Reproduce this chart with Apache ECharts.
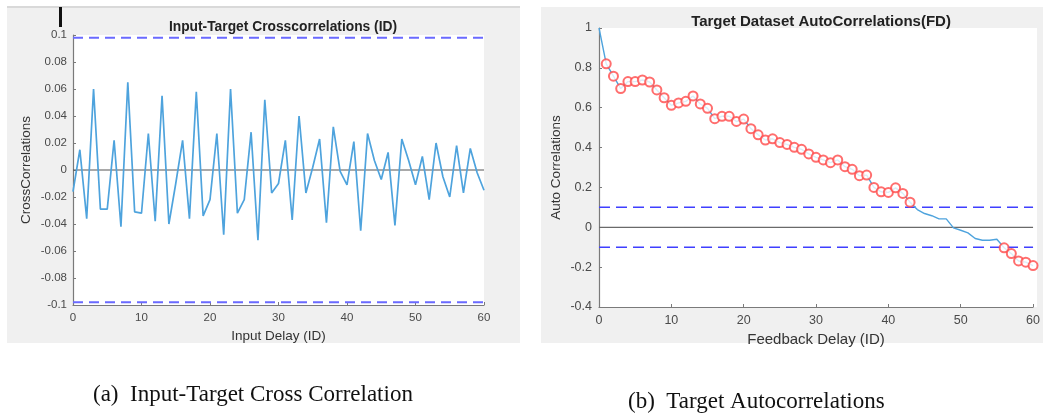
<!DOCTYPE html>
<html>
<head>
<meta charset="utf-8">
<script src="https://cdn.jsdelivr.net/npm/echarts@6/dist/echarts.min.js"></script>
<style>
html,body{margin:0;padding:0;background:#fff;}
#c{width:1043px;height:413px;}
</style>
</head>
<body>
<div id="c"></div>
<script>
// ---- Data ----
const lags = [];
for (let i = 0; i <= 60; i++) lags.push(i);

const crossCorr = [
  -0.016, 0.015, -0.036, 0.060, -0.029, -0.029, 0.022, -0.042, 0.065, -0.031,
  -0.032, 0.027, -0.038, 0.055, -0.040, -0.010, 0.022, -0.036, 0.058, -0.034,
  -0.022, 0.027, -0.048, 0.060, -0.032, -0.022, 0.028, -0.052, 0.052, -0.017,
  -0.010, 0.022, -0.037, 0.040, -0.017, 0.002, 0.023, -0.039, 0.032, -0.001,
  -0.011, 0.021, -0.045, 0.027, 0.007, -0.007, 0.013, -0.041, 0.023, 0.007,
  -0.011, 0.010, -0.022, 0.020, -0.005, -0.020, 0.018, -0.017, 0.016, -0.002,
  -0.015
];

const autoCorr = [
  1.000, 0.820, 0.758, 0.696, 0.731, 0.731, 0.739, 0.729, 0.689, 0.650,
  0.612, 0.624, 0.632, 0.659, 0.619, 0.597, 0.545, 0.557, 0.557, 0.531,
  0.543, 0.495, 0.464, 0.438, 0.444, 0.425, 0.416, 0.401, 0.391, 0.368,
  0.351, 0.338, 0.324, 0.338, 0.304, 0.291, 0.259, 0.262, 0.200, 0.178,
  0.175, 0.198, 0.170, 0.126, 0.089, 0.069, 0.058, 0.042, 0.042, -0.003,
  -0.015, -0.028, -0.056, -0.065, -0.065, -0.060, -0.103, -0.132, -0.169, -0.175,
  -0.192
];

const crossBound = 0.098;
const autoBound = 0.1;

const leftYTicks = [-0.1, 0.1, 0.02];   // min, max, interval
const rightYTicks = [-0.4, 1, 0.2];
const xTicks = [0, 60, 10];

// ---- Build ----
const crossData = lags.map((l, i) => [l, crossCorr[i]]);
const autoData = lags.map((l, i) => [l, autoCorr[i]]);
const autoOutside = lags
  .map((l, i) => [l, autoCorr[i]])
  .filter(d => d[0] > 0 && Math.abs(d[1]) > autoBound);
const hline = v => [[xTicks[0], v], [xTicks[1], v]];

const fmt = v => (Math.round(v * 1000) / 1000).toString();
const FONT = 'Liberation Sans, Arial, sans-serif';

function mkAxis(extra, labelSize, nameSize) {
  return Object.assign({
    type: 'value',
    axisLine: { show: true, onZero: false, lineStyle: { color: '#7a7a7a', width: 1.2 } },
    axisTick: { show: true, inside: true, length: 3, lineStyle: { color: '#7a7a7a' } },
    splitLine: { show: false },
    nameLocation: 'middle',
    nameTextStyle: { color: '#333', fontSize: nameSize, fontFamily: FONT }
  }, extra, {
    axisLabel: Object.assign({ color: '#4a4a4a', fontSize: labelSize, fontFamily: FONT, formatter: fmt }, extra.axisLabel || {})
  });
}

function lineSeries(xi, data, color, width, type, z) {
  return {
    type: 'line', xAxisIndex: xi, yAxisIndex: xi, data: data, showSymbol: false, silent: true,
    lineStyle: { color: color, width: width, type: type }, z: z
  };
}

const chart = echarts.init(document.getElementById('c'), null, { renderer: 'canvas' });

const option = {
  backgroundColor: '#ffffff',
  animation: false,
  graphic: [
    { type: 'rect', z: -10, shape: { x: 7, y: 7, width: 513, height: 336 }, style: { fill: '#f0f0f0' } },
    { type: 'rect', z: -9, shape: { x: 7, y: 6, width: 513, height: 2 }, style: { fill: '#d9d9d9' } },
    { type: 'rect', z: -10, shape: { x: 541, y: 7, width: 502, height: 336 }, style: { fill: '#f0f0f0' } },
    { type: 'rect', z: -8, shape: { x: 73, y: 35, width: 411, height: 270 }, style: { fill: '#ffffff' } },
    { type: 'rect', z: -8, shape: { x: 599, y: 28, width: 438, height: 279 }, style: { fill: '#ffffff' } },
    { type: 'rect', z: 5, shape: { x: 59, y: 7, width: 3, height: 20 }, style: { fill: '#111' } },
    { type: 'text', left: 93, top: 383, style: { text: '(a)  Input-Target Cross Correlation', fill: '#111', font: '23px "Liberation Serif", "Times New Roman", serif' } },
    { type: 'text', left: 628, top: 390, style: { text: '(b)  Target Autocorrelations', fill: '#111', font: '23px "Liberation Serif", "Times New Roman", serif' } }
  ],
  title: [
    { text: 'Input-Target Crosscorrelations (ID)', left: 278, top: 15, textAlign: 'center',
      textStyle: { fontSize: 13.8, fontWeight: 'bold', color: '#222', fontFamily: FONT } },
    { text: 'Target Dataset AutoCorrelations(FD)', left: 816, top: 9, textAlign: 'center',
      textStyle: { fontSize: 15, fontWeight: 'bold', color: '#222', fontFamily: FONT } }
  ],
  grid: [
    { left: 73, top: 35, width: 411, height: 270 },
    { left: 599, top: 28, width: 438, height: 279 }
  ],
  xAxis: [
    mkAxis({ gridIndex: 0, min: xTicks[0], max: xTicks[1], interval: xTicks[2],
      name: 'Input Delay (ID)', nameGap: 20, axisLabel: { margin: 7 } }, 11.5, 13.5),
    mkAxis({ gridIndex: 1, min: xTicks[0], max: xTicks[1], interval: xTicks[2],
      name: 'Feedback Delay (ID)', nameGap: 24, axisLabel: { margin: 7 } }, 12.5, 15)
  ],
  yAxis: [
    mkAxis({ gridIndex: 0, min: leftYTicks[0], max: leftYTicks[1], interval: leftYTicks[2],
      name: 'CrossCorrelations', nameGap: 40, axisLabel: { margin: 6 } }, 11.5, 13.5),
    mkAxis({ gridIndex: 1, min: rightYTicks[0], max: rightYTicks[1], interval: rightYTicks[2],
      name: 'Auto Correlations', nameGap: 36, axisLabel: { margin: 7 } }, 12.5, 13.5)
  ],
  series: [
    lineSeries(0, hline(0), '#555555', 1.2, 'solid', 2),
    lineSeries(0, hline(crossBound), '#6a6aff', 2, [10, 6], 2),
    lineSeries(0, hline(-crossBound), '#6a6aff', 2, [10, 6], 2),
    lineSeries(0, crossData, '#4ea3dd', 1.7, 'solid', 3),
    lineSeries(1, hline(0), '#6a6a6a', 1.3, 'solid', 2),
    lineSeries(1, hline(autoBound), '#3f3fff', 1.5, [11, 6], 2),
    lineSeries(1, hline(-autoBound), '#3f3fff', 1.5, [11, 6], 2),
    lineSeries(1, autoData, '#4ea3dd', 1.4, 'solid', 3),
    {
      type: 'scatter', xAxisIndex: 1, yAxisIndex: 1, data: autoOutside, silent: true,
      symbol: 'emptyCircle', symbolSize: 9, z: 4,
      itemStyle: { color: '#ff4a4a', borderColor: '#ff4a4a', borderWidth: 1.3 }
    }
  ]
};

chart.setOption(option);
</script>
</body>
</html>
